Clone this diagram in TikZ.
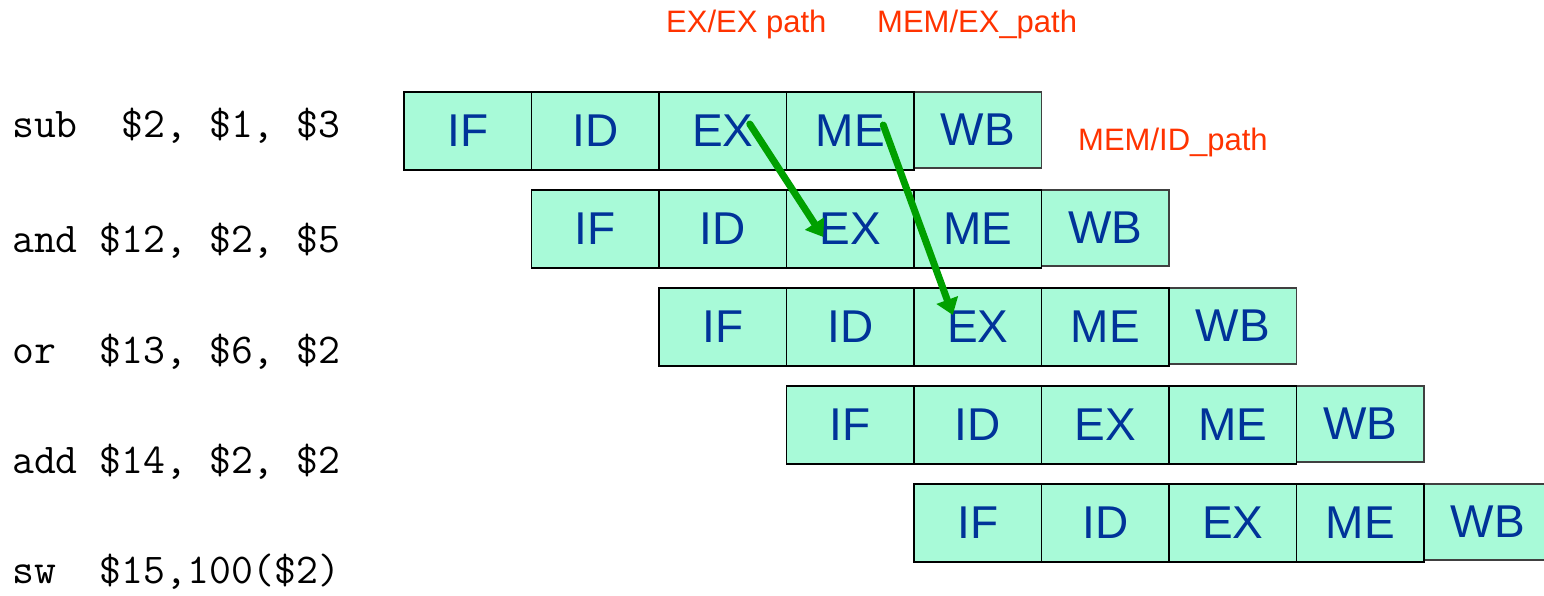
\documentclass[tikz,border=0pt]{standalone}
\usepackage{fontspec}
\setmainfont{Liberation Sans}
\usetikzlibrary{arrows.meta,calc}
\definecolor{stagefill}{RGB}{168,250,216}
\definecolor{stagetext}{RGB}{0,51,153}
\definecolor{pathred}{RGB}{255,51,0}
\definecolor{fwdgreen}{RGB}{0,160,0}
\begin{document}
\begin{tikzpicture}[x=1pt,y=-1pt,
  stage/.style={draw=black, line width=1.6pt, fill=stagefill, text=stagetext,
    minimum width=127.5pt, minimum height=78pt, inner sep=0pt, outer sep=0pt,
    font=\fontsize{46}{46}\selectfont},
  wbstage/.style={stage, draw=black!75, minimum height=76pt, yshift=1pt},
  instr/.style={anchor=base west, inner sep=0pt, font=\ttfamily\fontsize{42.5}{42.5}\selectfont},
  pathlabel/.style={anchor=base west, inner sep=0pt, text=pathred, font=\fontsize{31}{31}\selectfont},
  fwd/.style={draw=fwdgreen, line width=7pt, line cap=round,
    -{Triangle[length=16pt,width=22pt]}}]
\useasboundingbox (0,0) rectangle (1544,595);

% instruction listing
\node[instr] (i0) at (12,137) {sub\ \ \$2, \$1, \$3};
\node[instr] (i1) at (12,252) {and \$12, \$2, \$5};
\node[instr] (i2) at (12,363) {or\ \ \$13, \$6, \$2};
\node[instr] (i3) at (12,473) {add \$14, \$2, \$2};
\node[instr] (i4) at (12,583) {sw\ \ \$15,100(\$2)};

% pipeline stages, one row per instruction (WB first so the ME border stays on top)
\foreach \r in {0,...,4} {
  \node[wbstage] (r\r-4) at ({404+127.5*(\r+4)+63.75},{92+98*\r+39}) {WB};
  \foreach \s/\lab in {0/IF,1/ID,2/EX,3/ME} {
    \node[stage] (r\r-\s) at ({404+127.5*(\r+\s)+63.75},{92+98*\r+39}) {\lab};
  }
}

% forwarding path labels
\node[pathlabel] (lexex) at (666,32) {EX/EX path};
\node[pathlabel] (lmemex) at (877,32) {MEM/EX\_path};
\node[pathlabel] (lmemid) at (1078,150) {MEM/ID\_path};

% forwarding arrows
\draw[fwd] ($(r0-2.center)+(27,-7)$) -- ($(r1-2.center)+(-27,8)$);
\draw[fwd] ($(r0-3.center)+(33,-6)$) -- ($(r2-2.center)+(-25,-12)$);
\end{tikzpicture}
\end{document}
